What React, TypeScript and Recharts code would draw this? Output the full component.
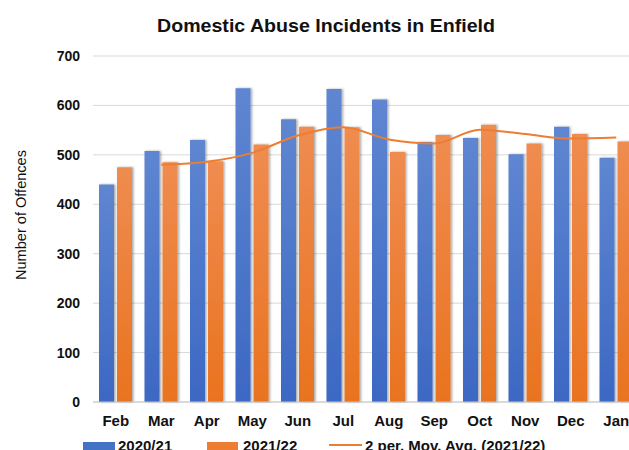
import React from "react";
import {
  ComposedChart,
  Bar,
  Line,
  XAxis,
  YAxis,
  CartesianGrid,
} from "recharts";

// Monthly domestic abuse offences, Enfield
const months = ["Feb", "Mar", "Apr", "May", "Jun", "Jul", "Aug", "Sep", "Oct", "Nov", "Dec", "Jan"];
const year2020 = [440, 508, 530, 635, 572, 633, 612, 526, 534, 501, 557, 494];
const year2021 = [475, 485, 487, 521, 557, 556, 506, 540, 561, 523, 542, 527];
// 2-period moving average
const movAvg = [null, 480, 486, 504, 539, 556, 531, 523, 551, 542, 533, 535];
const yTicks = [0, 100, 200, 300, 400, 500, 600, 700];

const data = months.map((m, i) => ({
  month: m,
  y2020: year2020[i],
  y2021: year2021[i],
  avg: movAvg[i],
}));

const FONT = "'Liberation Sans', Arial, sans-serif";

export default function App() {
  return (
    <div
      style={{
        position: "absolute",
        left: 0,
        top: 0,
        width: 629,
        height: 450,
        overflow: "hidden",
        background: "#fff",
        fontFamily: FONT,
      }}
    >
      <ComposedChart
        width={645}
        height={440}
        data={data}
        margin={{ top: 56, right: 6, left: 0, bottom: 0 }}
        barGap={3}
        barCategoryGap={6}
        style={{ position: "absolute", left: 0, top: 0 }}
      >
        <defs>
          <linearGradient id="blueGrad" x1="0" y1="0" x2="0" y2="1">
            <stop offset="0%" stopColor="#5F86D1" />
            <stop offset="100%" stopColor="#3C68C3" />
          </linearGradient>
          <linearGradient id="orangeGrad" x1="0" y1="0" x2="0" y2="1">
            <stop offset="0%" stopColor="#EF8C50" />
            <stop offset="100%" stopColor="#E9731F" />
          </linearGradient>
          <filter id="barShadow" x="-30%" y="-5%" width="160%" height="110%">
            <feDropShadow dx="1.5" dy="0" stdDeviation="1.2" floodColor="#000" floodOpacity="0.35" />
          </filter>
        </defs>
        <CartesianGrid vertical={false} stroke="#D9D9D9" strokeWidth={1} />
        <XAxis
          dataKey="month"
          tickLine={false}
          axisLine={{ stroke: "#C8C8C8" }}
          tick={{ fill: "#111", fontSize: 15, fontWeight: "bold", fontFamily: FONT }}
          tickMargin={7}
          height={38}
          interval={0}
        />
        <YAxis
          domain={[0, 700]}
          ticks={yTicks}
          width={93}
          tickLine={false}
          axisLine={false}
          tickSize={0}
          tickMargin={13}
          tick={{ fill: "#111", fontSize: 14, fontWeight: "bold", fontFamily: FONT }}
        />
        <Bar
          dataKey="y2020"
          fill="url(#blueGrad)"
          barSize={15}
          filter="url(#barShadow)"
          isAnimationActive={false}
        />
        <Bar
          dataKey="y2021"
          fill="url(#orangeGrad)"
          barSize={15}
          filter="url(#barShadow)"
          isAnimationActive={false}
        />
        <Line
          dataKey="avg"
          type="monotone"
          stroke="#ED7D31"
          strokeWidth={2}
          dot={false}
          connectNulls={false}
          isAnimationActive={false}
        />
      </ComposedChart>

      {/* title and y-axis label drawn on top, sized to match */}
      <svg
        width={629}
        height={450}
        style={{ position: "absolute", left: 0, top: 0, pointerEvents: "none" }}
      >
        <text
          x={157}
          y={32}
          fontSize={19}
          fontWeight="bold"
          fill="#111"
          fontFamily={FONT}
          textLength={338}
          lengthAdjust="spacingAndGlyphs"
        >
          Domestic Abuse Incidents in Enfield
        </text>
        <text
          transform="translate(26, 215) rotate(-90)"
          textAnchor="middle"
          fontSize={14}
          fill="#111"
          fontFamily={FONT}
          textLength={130}
          lengthAdjust="spacingAndGlyphs"
        >
          Number of Offences
        </text>
      </svg>

      <div
        style={{
          position: "absolute",
          top: 438,
          left: 0,
          width: 629,
          height: 20,
          fontSize: 15,
          fontWeight: "bold",
          color: "#111",
        }}
      >
        <span style={{ position: "absolute", left: 83, top: 4, width: 32, height: 8, background: "#4472C4" }} />
        <span style={{ position: "absolute", left: 118, top: -1 }}>2020/21</span>
        <span style={{ position: "absolute", left: 207, top: 4, width: 31, height: 8, background: "#ED7D31" }} />
        <span style={{ position: "absolute", left: 243, top: -1 }}>2021/22</span>
        <span style={{ position: "absolute", left: 329, top: 6, width: 33, height: 2, background: "#ED7D31" }} />
        <span style={{ position: "absolute", left: 365, top: -1 }}>2 per. Mov. Avg. (2021/22)</span>
      </div>
    </div>
  );
}
